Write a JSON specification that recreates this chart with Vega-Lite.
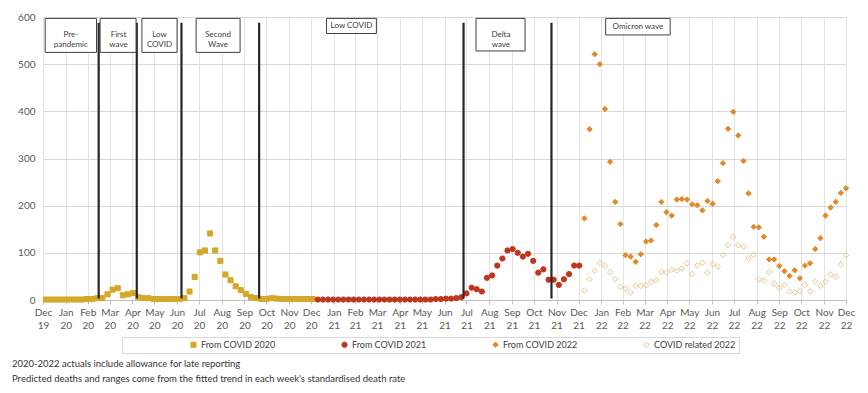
{
"$schema": "https://vega.github.io/schema/vega-lite/v6.json",
"width": 803, "height": 283,
"autosize": {"type": "none"},
"padding": {"left": 43, "top": 17, "right": 22, "bottom": 93},
"background": "white",
"config": {
  "font": "Lato",
  "view": {"stroke": null},
  "legend": {"orient": "none", "legendX": 79, "legendY": 320, "direction": "horizontal", "columns": 4, "columnPadding": 0, "padding": 3, "strokeColor": "#d9d9d9", "symbolOffset": 64, "labelFontSize": 9, "labelColor": "#404040", "symbolSize": 25, "symbolStrokeWidth": 1, "labelOffset": 3, "gridAlign": "each"}
},
"title": {"text": ["2020-2022   actuals include allowance for late reporting", "Predicted deaths and ranges come from the fitted trend in each week's standardised death rate"], "orient": "bottom", "anchor": "start", "frame": "group", "dx": -31, "offset": 5, "fontSize": 9.5, "fontWeight": "normal", "color": "#333333", "lineHeight": 15},
"datasets": {
"pts": [
{"s":"From COVID 2020","d":"2020-01-03","v":1},{"s":"From COVID 2020","d":"2020-01-10","v":1},{"s":"From COVID 2020","d":"2020-01-17","v":1},{"s":"From COVID 2020","d":"2020-01-24","v":1},{"s":"From COVID 2020","d":"2020-01-31","v":1},
{"s":"From COVID 2020","d":"2020-02-07","v":1},{"s":"From COVID 2020","d":"2020-02-14","v":1},{"s":"From COVID 2020","d":"2020-02-21","v":1},{"s":"From COVID 2020","d":"2020-02-28","v":2},
{"s":"From COVID 2020","d":"2020-03-06","v":2},{"s":"From COVID 2020","d":"2020-03-13","v":4},{"s":"From COVID 2020","d":"2020-03-20","v":4},{"s":"From COVID 2020","d":"2020-03-27","v":12},
{"s":"From COVID 2020","d":"2020-04-03","v":22},{"s":"From COVID 2020","d":"2020-04-10","v":25},{"s":"From COVID 2020","d":"2020-04-17","v":10},{"s":"From COVID 2020","d":"2020-04-24","v":12},
{"s":"From COVID 2020","d":"2020-05-01","v":15},{"s":"From COVID 2020","d":"2020-05-08","v":6},{"s":"From COVID 2020","d":"2020-05-15","v":4},{"s":"From COVID 2020","d":"2020-05-22","v":4},{"s":"From COVID 2020","d":"2020-05-29","v":2},
{"s":"From COVID 2020","d":"2020-06-05","v":2},{"s":"From COVID 2020","d":"2020-06-12","v":2},{"s":"From COVID 2020","d":"2020-06-19","v":2},{"s":"From COVID 2020","d":"2020-06-26","v":2},
{"s":"From COVID 2020","d":"2020-07-03","v":2},{"s":"From COVID 2020","d":"2020-07-10","v":4},{"s":"From COVID 2020","d":"2020-07-17","v":18},{"s":"From COVID 2020","d":"2020-07-24","v":49},{"s":"From COVID 2020","d":"2020-07-31","v":101},
{"s":"From COVID 2020","d":"2020-08-07","v":105},{"s":"From COVID 2020","d":"2020-08-14","v":141},{"s":"From COVID 2020","d":"2020-08-21","v":105},{"s":"From COVID 2020","d":"2020-08-28","v":83},
{"s":"From COVID 2020","d":"2020-09-04","v":54},{"s":"From COVID 2020","d":"2020-09-11","v":42},{"s":"From COVID 2020","d":"2020-09-18","v":29},{"s":"From COVID 2020","d":"2020-09-25","v":21},
{"s":"From COVID 2020","d":"2020-10-02","v":13},{"s":"From COVID 2020","d":"2020-10-09","v":6},{"s":"From COVID 2020","d":"2020-10-16","v":4},{"s":"From COVID 2020","d":"2020-10-23","v":2},{"s":"From COVID 2020","d":"2020-10-30","v":2},
{"s":"From COVID 2020","d":"2020-11-06","v":4},{"s":"From COVID 2020","d":"2020-11-13","v":3},{"s":"From COVID 2020","d":"2020-11-20","v":2},{"s":"From COVID 2020","d":"2020-11-27","v":2},
{"s":"From COVID 2020","d":"2020-12-04","v":2},{"s":"From COVID 2020","d":"2020-12-11","v":2},{"s":"From COVID 2020","d":"2020-12-18","v":2},{"s":"From COVID 2020","d":"2020-12-25","v":2},{"s":"From COVID 2020","d":"2021-01-01","v":2},
{"s":"From COVID 2021","d":"2021-01-08","v":1},{"s":"From COVID 2021","d":"2021-01-15","v":1},{"s":"From COVID 2021","d":"2021-01-22","v":1},{"s":"From COVID 2021","d":"2021-01-29","v":1},
{"s":"From COVID 2021","d":"2021-02-05","v":1},{"s":"From COVID 2021","d":"2021-02-12","v":1},{"s":"From COVID 2021","d":"2021-02-19","v":1},{"s":"From COVID 2021","d":"2021-02-26","v":1},
{"s":"From COVID 2021","d":"2021-03-05","v":1},{"s":"From COVID 2021","d":"2021-03-12","v":1},{"s":"From COVID 2021","d":"2021-03-19","v":1},{"s":"From COVID 2021","d":"2021-03-26","v":1},
{"s":"From COVID 2021","d":"2021-04-02","v":1},{"s":"From COVID 2021","d":"2021-04-09","v":1},{"s":"From COVID 2021","d":"2021-04-16","v":1},{"s":"From COVID 2021","d":"2021-04-23","v":1},{"s":"From COVID 2021","d":"2021-04-30","v":1},
{"s":"From COVID 2021","d":"2021-05-07","v":1},{"s":"From COVID 2021","d":"2021-05-14","v":1},{"s":"From COVID 2021","d":"2021-05-21","v":1},{"s":"From COVID 2021","d":"2021-05-28","v":1},
{"s":"From COVID 2021","d":"2021-06-04","v":1},{"s":"From COVID 2021","d":"2021-06-11","v":1},{"s":"From COVID 2021","d":"2021-06-18","v":2},{"s":"From COVID 2021","d":"2021-06-25","v":2},
{"s":"From COVID 2021","d":"2021-07-02","v":3},{"s":"From COVID 2021","d":"2021-07-09","v":3},{"s":"From COVID 2021","d":"2021-07-16","v":4},{"s":"From COVID 2021","d":"2021-07-23","v":6},{"s":"From COVID 2021","d":"2021-07-30","v":14},
{"s":"From COVID 2021","d":"2021-08-06","v":26},{"s":"From COVID 2021","d":"2021-08-13","v":23},{"s":"From COVID 2021","d":"2021-08-20","v":18},{"s":"From COVID 2021","d":"2021-08-27","v":47},
{"s":"From COVID 2021","d":"2021-09-03","v":52},{"s":"From COVID 2021","d":"2021-09-10","v":73},{"s":"From COVID 2021","d":"2021-09-17","v":88},{"s":"From COVID 2021","d":"2021-09-24","v":105},
{"s":"From COVID 2021","d":"2021-10-01","v":108},{"s":"From COVID 2021","d":"2021-10-08","v":100},{"s":"From COVID 2021","d":"2021-10-15","v":92},{"s":"From COVID 2021","d":"2021-10-22","v":98},{"s":"From COVID 2021","d":"2021-10-29","v":83},
{"s":"From COVID 2021","d":"2021-11-05","v":58},{"s":"From COVID 2021","d":"2021-11-12","v":65},{"s":"From COVID 2021","d":"2021-11-19","v":43},{"s":"From COVID 2021","d":"2021-11-26","v":43},
{"s":"From COVID 2021","d":"2021-12-03","v":32},{"s":"From COVID 2021","d":"2021-12-10","v":44},{"s":"From COVID 2021","d":"2021-12-17","v":55},{"s":"From COVID 2021","d":"2021-12-24","v":73},{"s":"From COVID 2021","d":"2021-12-31","v":73},
{"s":"From COVID 2022","d":"2022-01-07","v":173},{"s":"From COVID 2022","d":"2022-01-14","v":362},{"s":"From COVID 2022","d":"2022-01-21","v":521},{"s":"From COVID 2022","d":"2022-01-28","v":500},
{"s":"From COVID 2022","d":"2022-02-04","v":405},{"s":"From COVID 2022","d":"2022-02-11","v":293},{"s":"From COVID 2022","d":"2022-02-18","v":208},{"s":"From COVID 2022","d":"2022-02-25","v":161},
{"s":"From COVID 2022","d":"2022-03-04","v":95},{"s":"From COVID 2022","d":"2022-03-11","v":92},{"s":"From COVID 2022","d":"2022-03-18","v":81},{"s":"From COVID 2022","d":"2022-03-25","v":97},
{"s":"From COVID 2022","d":"2022-04-01","v":124},{"s":"From COVID 2022","d":"2022-04-08","v":126},{"s":"From COVID 2022","d":"2022-04-15","v":159},{"s":"From COVID 2022","d":"2022-04-22","v":208},{"s":"From COVID 2022","d":"2022-04-29","v":186},
{"s":"From COVID 2022","d":"2022-05-06","v":179},{"s":"From COVID 2022","d":"2022-05-13","v":213},{"s":"From COVID 2022","d":"2022-05-20","v":214},{"s":"From COVID 2022","d":"2022-05-27","v":213},
{"s":"From COVID 2022","d":"2022-06-03","v":203},{"s":"From COVID 2022","d":"2022-06-10","v":201},{"s":"From COVID 2022","d":"2022-06-17","v":190},{"s":"From COVID 2022","d":"2022-06-24","v":210},
{"s":"From COVID 2022","d":"2022-07-01","v":204},{"s":"From COVID 2022","d":"2022-07-08","v":252},{"s":"From COVID 2022","d":"2022-07-15","v":290},{"s":"From COVID 2022","d":"2022-07-22","v":363},{"s":"From COVID 2022","d":"2022-07-29","v":399},
{"s":"From COVID 2022","d":"2022-08-05","v":349},{"s":"From COVID 2022","d":"2022-08-12","v":295},{"s":"From COVID 2022","d":"2022-08-19","v":226},{"s":"From COVID 2022","d":"2022-08-26","v":155},
{"s":"From COVID 2022","d":"2022-09-02","v":154},{"s":"From COVID 2022","d":"2022-09-09","v":134},{"s":"From COVID 2022","d":"2022-09-16","v":86},{"s":"From COVID 2022","d":"2022-09-23","v":86},{"s":"From COVID 2022","d":"2022-09-30","v":72},
{"s":"From COVID 2022","d":"2022-10-07","v":61},{"s":"From COVID 2022","d":"2022-10-14","v":51},{"s":"From COVID 2022","d":"2022-10-21","v":63},{"s":"From COVID 2022","d":"2022-10-28","v":46},
{"s":"From COVID 2022","d":"2022-11-04","v":73},{"s":"From COVID 2022","d":"2022-11-11","v":78},{"s":"From COVID 2022","d":"2022-11-18","v":108},{"s":"From COVID 2022","d":"2022-11-25","v":131},
{"s":"From COVID 2022","d":"2022-12-02","v":179},{"s":"From COVID 2022","d":"2022-12-09","v":196},{"s":"From COVID 2022","d":"2022-12-16","v":208},{"s":"From COVID 2022","d":"2022-12-23","v":227},{"s":"From COVID 2022","d":"2022-12-30","v":237},
{"s":"COVID related 2022","d":"2022-01-07","v":20},{"s":"COVID related 2022","d":"2022-01-14","v":44},{"s":"COVID related 2022","d":"2022-01-21","v":62},{"s":"COVID related 2022","d":"2022-01-28","v":78},
{"s":"COVID related 2022","d":"2022-02-04","v":72},{"s":"COVID related 2022","d":"2022-02-11","v":59},{"s":"COVID related 2022","d":"2022-02-18","v":44},{"s":"COVID related 2022","d":"2022-02-25","v":28},
{"s":"COVID related 2022","d":"2022-03-04","v":24},{"s":"COVID related 2022","d":"2022-03-11","v":16},{"s":"COVID related 2022","d":"2022-03-18","v":30},{"s":"COVID related 2022","d":"2022-03-25","v":30},
{"s":"COVID related 2022","d":"2022-04-01","v":31},{"s":"COVID related 2022","d":"2022-04-08","v":38},{"s":"COVID related 2022","d":"2022-04-15","v":42},{"s":"COVID related 2022","d":"2022-04-22","v":59},{"s":"COVID related 2022","d":"2022-04-29","v":58},
{"s":"COVID related 2022","d":"2022-05-06","v":64},{"s":"COVID related 2022","d":"2022-05-13","v":62},{"s":"COVID related 2022","d":"2022-05-20","v":67},{"s":"COVID related 2022","d":"2022-05-27","v":78},
{"s":"COVID related 2022","d":"2022-06-03","v":55},{"s":"COVID related 2022","d":"2022-06-10","v":73},{"s":"COVID related 2022","d":"2022-06-17","v":79},{"s":"COVID related 2022","d":"2022-06-24","v":58},
{"s":"COVID related 2022","d":"2022-07-01","v":76},{"s":"COVID related 2022","d":"2022-07-08","v":71},{"s":"COVID related 2022","d":"2022-07-15","v":95},{"s":"COVID related 2022","d":"2022-07-22","v":116},{"s":"COVID related 2022","d":"2022-07-29","v":134},
{"s":"COVID related 2022","d":"2022-08-05","v":116},{"s":"COVID related 2022","d":"2022-08-12","v":113},{"s":"COVID related 2022","d":"2022-08-19","v":89},{"s":"COVID related 2022","d":"2022-08-26","v":96},
{"s":"COVID related 2022","d":"2022-09-02","v":44},{"s":"COVID related 2022","d":"2022-09-09","v":41},{"s":"COVID related 2022","d":"2022-09-16","v":59},{"s":"COVID related 2022","d":"2022-09-23","v":35},{"s":"COVID related 2022","d":"2022-09-30","v":26},
{"s":"COVID related 2022","d":"2022-10-07","v":32},{"s":"COVID related 2022","d":"2022-10-14","v":18},{"s":"COVID related 2022","d":"2022-10-21","v":16},{"s":"COVID related 2022","d":"2022-10-28","v":19},
{"s":"COVID related 2022","d":"2022-11-04","v":32},{"s":"COVID related 2022","d":"2022-11-11","v":18},{"s":"COVID related 2022","d":"2022-11-18","v":39},{"s":"COVID related 2022","d":"2022-11-25","v":30},
{"s":"COVID related 2022","d":"2022-12-02","v":39},{"s":"COVID related 2022","d":"2022-12-09","v":54},{"s":"COVID related 2022","d":"2022-12-16","v":49},{"s":"COVID related 2022","d":"2022-12-23","v":75},{"s":"COVID related 2022","d":"2022-12-30","v":95}
],
"lines": [{"d":"2020-03-15"},{"d":"2020-05-06"},{"d":"2020-07-06"},{"d":"2020-10-20"},{"d":"2021-07-26"},{"d":"2021-11-23"}],
"periods": [
{"a":"2020-01-02","b":"2020-03-12","lo":525,"hi":597,"m":"2020-02-06","ym":561,"t":"Pre-\npandemic"},
{"a":"2020-03-17","b":"2020-05-05","lo":525,"hi":597,"m":"2020-04-11","ym":561,"t":"First\nwave"},
{"a":"2020-05-13","b":"2020-06-30","lo":525,"hi":597,"m":"2020-06-06","ym":561,"t":"Low\nCOVID"},
{"a":"2020-07-26","b":"2020-09-24","lo":525,"hi":597,"m":"2020-08-25","ym":561,"t":"Second\nWave"},
{"a":"2021-01-20","b":"2021-03-29","lo":565,"hi":597,"m":"2021-02-23","ym":581,"t":"Low COVID"},
{"a":"2021-08-12","b":"2021-10-18","lo":528,"hi":597,"m":"2021-09-15","ym":562.5,"t":"Delta\nwave"},
{"a":"2022-02-05","b":"2022-05-04","lo":562,"hi":597,"m":"2022-03-21","ym":579.5,"t":"Omicron wave"}
]
},
"layer": [
{"data": {"name": "pts"},
 "mark": {"type": "point", "filled": true, "strokeWidth": 1, "opacity": 1},
 "encoding": {
  "x": {"field": "d", "type": "temporal",
    "scale": {"type": "utc", "domain": [{"year": 2019, "month": 12, "date": 30, "utc": true}, {"year": 2022, "month": 12, "date": 30, "utc": true}]},
    "axis": {"title": null, "tickCount": 60, "values": [
      {"year":2019,"month":12,"date":30,"utc":true},
      {"year":2020,"month":1,"date":30,"utc":true},{"year":2020,"month":2,"date":29,"utc":true},{"year":2020,"month":3,"date":30,"utc":true},{"year":2020,"month":4,"date":30,"utc":true},{"year":2020,"month":5,"date":30,"utc":true},{"year":2020,"month":6,"date":30,"utc":true},{"year":2020,"month":7,"date":30,"utc":true},{"year":2020,"month":8,"date":30,"utc":true},{"year":2020,"month":9,"date":30,"utc":true},{"year":2020,"month":10,"date":30,"utc":true},{"year":2020,"month":11,"date":30,"utc":true},{"year":2020,"month":12,"date":30,"utc":true},
      {"year":2021,"month":1,"date":30,"utc":true},{"year":2021,"month":2,"date":28,"utc":true},{"year":2021,"month":3,"date":30,"utc":true},{"year":2021,"month":4,"date":30,"utc":true},{"year":2021,"month":5,"date":30,"utc":true},{"year":2021,"month":6,"date":30,"utc":true},{"year":2021,"month":7,"date":30,"utc":true},{"year":2021,"month":8,"date":30,"utc":true},{"year":2021,"month":9,"date":30,"utc":true},{"year":2021,"month":10,"date":30,"utc":true},{"year":2021,"month":11,"date":30,"utc":true},{"year":2021,"month":12,"date":30,"utc":true},
      {"year":2022,"month":1,"date":30,"utc":true},{"year":2022,"month":2,"date":28,"utc":true},{"year":2022,"month":3,"date":30,"utc":true},{"year":2022,"month":4,"date":30,"utc":true},{"year":2022,"month":5,"date":30,"utc":true},{"year":2022,"month":6,"date":30,"utc":true},{"year":2022,"month":7,"date":30,"utc":true},{"year":2022,"month":8,"date":30,"utc":true},{"year":2022,"month":9,"date":30,"utc":true},{"year":2022,"month":10,"date":30,"utc":true},{"year":2022,"month":11,"date":30,"utc":true},{"year":2022,"month":12,"date":30,"utc":true}],
      "labelExpr": "[utcFormat(datum.value, '%b'), utcFormat(datum.value, '%y')]",
      "labelFontSize": 10, "labelColor": "#595959", "labelLineHeight": 13, "labelAngle": 0, "labelFlush": false, "labelOverlap": false, "labelPadding": 3,
      "grid": true, "gridColor": "#e3e3e3", "domainColor": "#bfbfbf", "tickColor": "#bfbfbf", "tickSize": 4}},
  "y": {"field": "v", "type": "quantitative", "scale": {"domain": [0, 600]},
    "axis": {"title": null, "values": [0, 100, 200, 300, 400, 500, 600], "labelFontSize": 10, "labelColor": "#595959", "domain": false, "ticks": false, "gridColor": "#d9d9d9", "labelPadding": 8}},
  "shape": {"field": "s", "type": "nominal", "scale": {"domain": ["From COVID 2020", "From COVID 2021", "From COVID 2022", "COVID related 2022"], "range": ["square", "circle", "diamond", "diamond"]}, "legend": {"title": null}},
  "fill": {"field": "s", "type": "nominal", "scale": {"domain": ["From COVID 2020", "From COVID 2021", "From COVID 2022", "COVID related 2022"], "range": ["#D5A82B", "#C0351C", "#E08A2C", "transparent"]}, "legend": {"title": null}},
  "stroke": {"field": "s", "type": "nominal", "scale": {"domain": ["From COVID 2020", "From COVID 2021", "From COVID 2022", "COVID related 2022"], "range": ["#D5A82B", "#C0351C", "#E08A2C", "#E6C38E"]}, "legend": {"title": null}},
  "size": {"field": "s", "type": "nominal", "scale": {"domain": ["From COVID 2020", "From COVID 2021", "From COVID 2022", "COVID related 2022"], "range": [26, 30, 40, 42]}, "legend": {"title": null}}
 }},
{"data": {"name": "lines"},
 "mark": {"type": "rule", "color": "#262626", "strokeWidth": 2.2},
 "encoding": {"x": {"field": "d", "type": "temporal"}, "y": {"datum": 3}, "y2": {"datum": 588}}},
{"data": {"name": "periods"},
 "mark": {"type": "rect", "fill": "white", "stroke": "#404040", "strokeWidth": 1},
 "encoding": {"x": {"field": "a", "type": "temporal"}, "x2": {"field": "b"}, "y": {"field": "lo", "type": "quantitative"}, "y2": {"field": "hi"}}},
{"data": {"name": "periods"},
 "mark": {"type": "text", "lineBreak": "\n", "fontSize": 8, "color": "#404040", "baseline": "middle", "align": "center", "lineHeight": 10},
 "encoding": {"x": {"field": "m", "type": "temporal"}, "y": {"field": "ym", "type": "quantitative"}, "text": {"field": "t", "type": "nominal"}}}
]
}
